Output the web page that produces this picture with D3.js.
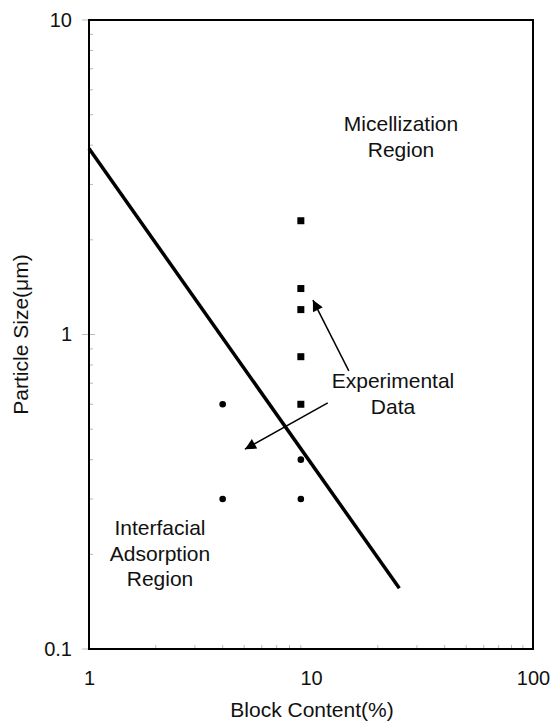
<html>
<head>
    <script src="https://d3js.org/d3.v7.min.js"></script>
    <style>
        body { margin: 0; background: #fff; }
        text { font-family: "Liberation Sans", Arial, sans-serif; fill: #111; }
    </style>
</head>
<body>
    <svg class="chart" height="721" width="551"></svg>

    <script>
      // data
      var lineX = [1, 25];
      var lineY = [3.9, 0.156];

      var squareX = [9, 9, 9, 9, 9];
      var squareY = [2.3, 1.4, 1.2, 0.85, 0.6];

      var circleX = [4, 4, 9, 9];
      var circleY = [0.6, 0.3, 0.4, 0.3];

      var xTicks = [1, 10, 100];
      var yTicks = [0.1, 1, 10];

      var mLeft = 89, mRight = 533, mTop = 20, mBottom = 649;

      var svg = d3.select("svg");

      var x = d3.scaleLog().domain([1, 100]).range([mLeft, mRight]);
      var y = d3.scaleLog().domain([0.1, 10]).range([mBottom, mTop]);

      var minor = [];
      [1, 10].forEach(function (d) {
        for (var k = 2; k <= 9; k++) minor.push(d * k);
      });
      var minorY = minor.map(function (v) { return v / 10; });

      // faint minor ticks inside the frame
      svg.append("g").selectAll("line").data(minorY).enter().append("line")
        .attr("x1", mLeft).attr("x2", mLeft + 4)
        .attr("y1", d => y(d)).attr("y2", d => y(d))
        .attr("stroke", "#bbb").attr("stroke-width", 1);
      svg.append("g").selectAll("line").data(minor).enter().append("line")
        .attr("y1", mBottom).attr("y2", mBottom - 4)
        .attr("x1", d => x(d)).attr("x2", d => x(d))
        .attr("stroke", "#bbb").attr("stroke-width", 1);

      // major ticks
      svg.append("g").selectAll("line").data(yTicks).enter().append("line")
        .attr("x1", mLeft - 7).attr("x2", mLeft + 6)
        .attr("y1", d => y(d)).attr("y2", d => y(d))
        .attr("stroke", "#bbb").attr("stroke-width", 1);

      var yAxis = d3.axisLeft(y).tickValues(yTicks).tickSize(0).tickPadding(17)
        .tickFormat(d => d >= 1 ? d3.format("d")(d) : d3.format(".1f")(d));
      svg.append("g").attr("transform", "translate(" + mLeft + ",0)").call(yAxis)
        .call(g => g.select(".domain").remove())
        .selectAll("text").style("font-size", "20px").style("fill", "#111")
        .style("font-family", "'Liberation Sans', Arial, sans-serif");

      var xAxis = d3.axisBottom(x).tickValues(xTicks).tickSize(0).tickPadding(22)
        .tickFormat(d3.format("d"));
      svg.append("g").attr("transform", "translate(0," + mBottom + ")").call(xAxis)
        .call(g => g.select(".domain").remove())
        .selectAll("text").style("font-size", "20px").style("fill", "#111")
        .style("font-family", "'Liberation Sans', Arial, sans-serif");

      // frame
      svg.append("rect")
        .attr("x", mLeft).attr("y", mTop)
        .attr("width", mRight - mLeft).attr("height", mBottom - mTop)
        .attr("fill", "none").attr("stroke", "#000").attr("stroke-width", 2);

      // boundary line
      var line = d3.line().x(d => x(d[0])).y(d => y(d[1]));
      svg.append("path")
        .datum(d3.zip(lineX, lineY))
        .attr("d", line)
        .attr("fill", "none").attr("stroke", "#000").attr("stroke-width", 3.5);

      // data points
      svg.append("g").selectAll("rect").data(d3.zip(squareX, squareY)).enter().append("rect")
        .attr("x", d => x(d[0]) - 3.5).attr("y", d => y(d[1]) - 3.5)
        .attr("width", 7).attr("height", 7).attr("fill", "#000");

      svg.append("g").selectAll("circle").data(d3.zip(circleX, circleY)).enter().append("circle")
        .attr("cx", d => x(d[0])).attr("cy", d => y(d[1]))
        .attr("r", 3.3).attr("fill", "#000");

      // arrows
      svg.append("defs").append("marker")
        .attr("id", "head").attr("viewBox", "0 0 10 10")
        .attr("refX", 10).attr("refY", 5)
        .attr("markerWidth", 13).attr("markerHeight", 11)
        .attr("markerUnits", "userSpaceOnUse")
        .attr("orient", "auto")
        .append("path").attr("d", "M0,0 L10,5 L0,10 Z").attr("fill", "#000");

      var arrows = [
        [[14.8, 0.766], [10.2, 1.287]],
        [[11.9, 0.606], [5.04, 0.432]]
      ];
      svg.append("g").selectAll("line").data(arrows).enter().append("line")
        .attr("x1", d => x(d[0][0])).attr("y1", d => y(d[0][1]))
        .attr("x2", d => x(d[1][0])).attr("y2", d => y(d[1][1]))
        .attr("stroke", "#000").attr("stroke-width", 1.5)
        .attr("marker-end", "url(#head)");

      // region labels
      function label(lines, cx, y0) {
        var t = svg.append("text").attr("text-anchor", "middle").style("font-size", "21px");
        lines.forEach(function (s, i) {
          t.append("tspan").attr("x", cx).attr("y", y0 + i * 25.5).text(s);
        });
      }
      label(["Micellization", "Region"], 401, 131);
      label(["Experimental", "Data"], 393, 388);
      label(["Interfacial", "Adsorption", "Region"], 160, 535);

      // axis titles
      svg.append("text").attr("x", 312).attr("y", 717)
        .attr("text-anchor", "middle").style("font-size", "21px")
        .text("Block Content(%)");
      svg.append("text")
        .attr("transform", "translate(28," + ((mTop + mBottom) / 2) + ") rotate(-90)")
        .attr("text-anchor", "middle").style("font-size", "21px")
        .text("Particle Size(\u03bcm)");
    </script>
</body>
</html>
